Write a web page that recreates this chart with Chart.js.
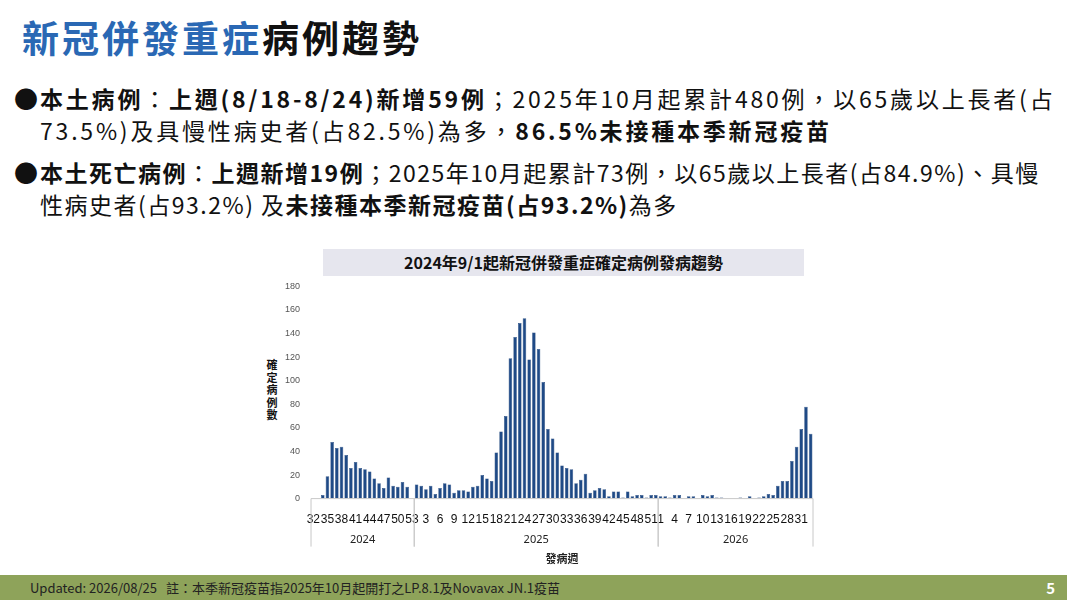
<!DOCTYPE html>
<html><head><meta charset="utf-8">
<script src="https://cdn.jsdelivr.net/npm/chart.js@4.4.0/dist/chart.umd.min.js"></script>
<style>
body{margin:0;width:1067px;height:600px;position:relative;overflow:hidden;background:#fff;font-family:"Noto Sans CJK TC","Noto Sans",sans-serif;color:#111}
#title{position:absolute;left:22px;top:10px;font-size:37px;font-weight:bold;letter-spacing:3px}
.b{position:absolute;left:14px;font-size:23px;line-height:32px;width:1060px;letter-spacing:2.8px;white-space:nowrap}
.b .dot{position:absolute;left:0;top:0;font-size:24px;letter-spacing:0}
.b .t{margin-left:26px}
#ct{position:absolute;left:323px;top:249px;width:481px;height:27px;background:#e6e6ee;text-align:center;font-size:16px;font-weight:bold;line-height:27px}
#yt{position:absolute;left:265px;top:358px;font-size:11px;font-weight:bold;line-height:12.5px;width:14px;text-align:center}
#foot{position:absolute;left:0;top:575px;width:1067px;height:25px;background:#8ea35a;font-size:13px;line-height:25px;color:#222}
#wrap{position:absolute;left:282px;top:278px;width:545px;height:323px}
</style></head><body>
<div id="title"><span style="color:#2a68b4">新冠併發重症</span>病例趨勢</div>
<div class="b" style="top:82px"><span class="dot">●</span><div class="t"><b>本土病例</b>：<b>上週(8/18-8/24)新增59例</b>；2025年10月起累計480例，以65歲以上長者(占<br>73.5%)及具慢性病史者(占82.5%)為多，<b>86.5%未接種本季新冠疫苗</b></div></div>
<div class="b" style="top:156px;letter-spacing:1.5px"><span class="dot">●</span><div class="t"><b>本土死亡病例</b>：<b>上週新增19例</b>；2025年10月起累計73例，以65歲以上長者(占84.9%)、具慢<br>性病史者(占93.2%) 及<b>未接種本季新冠疫苗(占93.2%)</b>為多</div></div>
<div id="ct">2024年9/1起新冠併發重症確定病例發病趨勢</div>
<div id="yt">確<br>定<br>病<br>例<br>數</div>
<div id="wrap"><canvas id="c"></canvas></div>
<div id="foot"><span style="position:absolute;left:30px">Updated: 2026/08/25</span><span style="position:absolute;left:166px">註：本季新冠疫苗指2025年10月起開打之LP.8.1及Novavax JN.1疫苗</span><span style="position:absolute;right:12px;color:#fff;font-weight:bold;font-size:15px">5</span></div>
<script>
const weeks2024=[32,33,34,35,36,37,38,39,40,41,42,43,44,45,46,47,48,49,50,51,52,53];
const cases2024=[0,0,3,19,48,43,44,37,26,31,26,25,23,17,13,9,18,11,10,14,10,0];
const weeks2025=Array.from({length:52},(_, i)=>i+1);
const cases2025=[12,11,8,11,4,9,13,12,5,7,7,6,10,11,20,17,15,39,57,70,119,137,149,153,118,141,127,99,59,51,39,28,26,25,13,16,21,5,7,9,8,2,6,6,1,6,2,3,3,1,3,3];
const weeks2026=Array.from({length:33},(_, i)=>i+1);
const cases2026=[2,2,1,3,3,0,2,2,0,3,2,3,1,1,0,0,0,1,0,2,0,1,2,4,3,11,15,15,32,44,59,78,55];
const years=['2024','2025','2026'];
const groups=[weeks2024,weeks2025,weeks2026];
const labels=[],values=[],shown=[];
groups.forEach((g,gi)=>{g.forEach((w,i)=>{labels.push(w);values.push([cases2024,cases2025,cases2026][gi][i]);
 shown.push(gi===0?((w-32)%3===0?String(w):''):gi===1?(w%3===0?String(w):''):((w-1)%3===0?String(w):''));});});
const groupPlugin={id:'grp',afterDraw(ch){const x=ch.scales.x,ctx=ch.ctx,a=ch.chartArea;
 const half=(x.getPixelForValue(1)-x.getPixelForValue(0))/2;let idx=0;
 ctx.save();ctx.strokeStyle='#c8c8c8';ctx.lineWidth=1;ctx.fillStyle='#222';ctx.font='11px "Noto Sans"';ctx.textAlign='center';
 const top=a.bottom,bot=a.bottom+48;
 ctx.beginPath();ctx.moveTo(a.left,top);ctx.lineTo(a.right,top);ctx.stroke();
 groups.forEach((g,gi)=>{const l=x.getPixelForValue(idx)-half,r=x.getPixelForValue(idx+g.length-1)+half;
  ctx.beginPath();ctx.moveTo(l,top);ctx.lineTo(l,bot);ctx.moveTo(r,top);ctx.lineTo(r,bot);ctx.stroke();
  ctx.fillText(years[gi],(l+r)/2,top+44);idx+=g.length;});
 ctx.font='bold 11px "Noto Sans CJK TC"';ctx.fillText('發病週',(a.left+a.right)/2,top+64);ctx.restore();}};
new Chart(document.getElementById('c'),{type:'bar',data:{labels:labels,datasets:[{data:values,backgroundColor:'#1f4a86',borderColor:'#1a3f75',borderWidth:0.5,categoryPercentage:0.95,barPercentage:0.8}]},
options:{responsive:true,maintainAspectRatio:false,animation:false,layout:{padding:{top:4,right:14,bottom:68}},
plugins:{legend:{display:false},tooltip:{enabled:false}},
scales:{y:{min:0,max:180,ticks:{stepSize:20,color:'#555',font:{size:9}},grid:{display:false},border:{display:false}},
x:{grid:{display:false},border:{display:false},ticks:{autoSkip:false,maxRotation:0,minRotation:0,color:'#111',font:{size:12},padding:6,callback:(v,i)=>shown[i]}}}},
plugins:[groupPlugin]});
</script></body></html>
